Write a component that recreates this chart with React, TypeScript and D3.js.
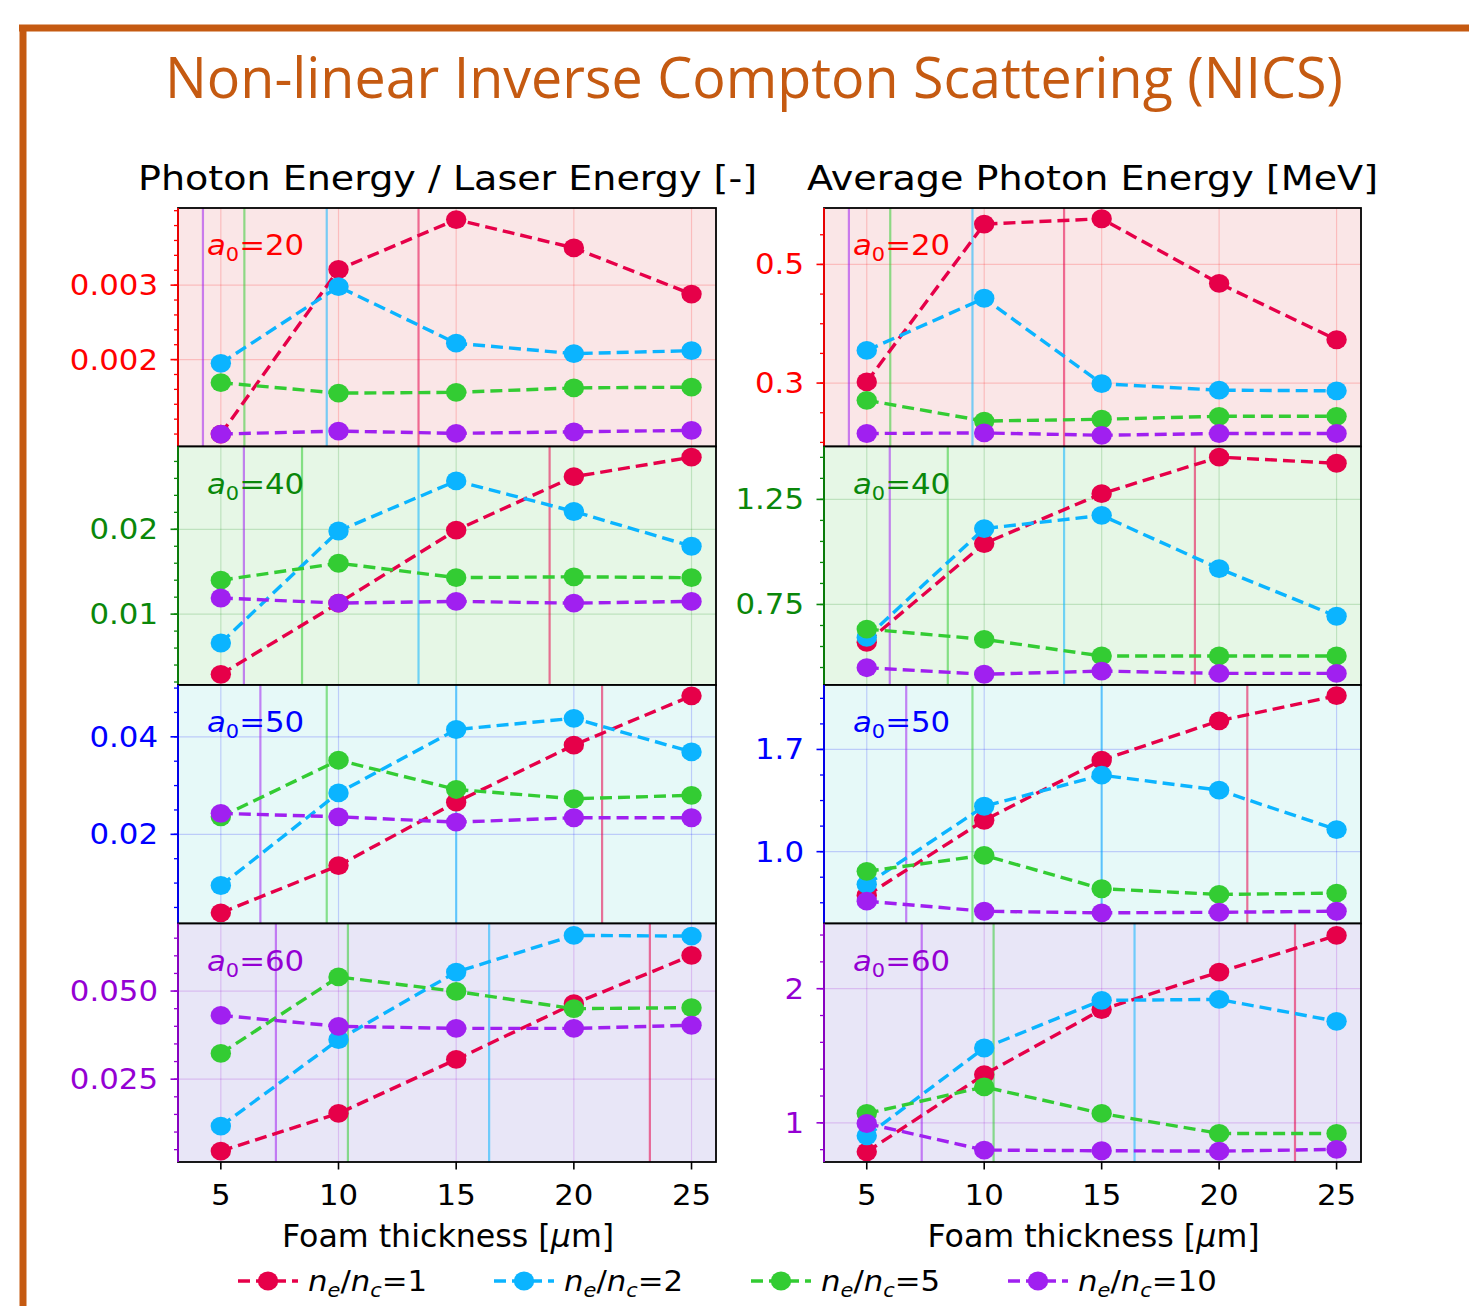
import React from "react";
import * as d3 from "d3";

// Foam thickness [um] sampled in the simulations
const thickness = [5, 10, 15, 20, 25];
const a0Values = [20, 40, 50, 60];
const densityLabels = ["1", "2", "5", "10"];
const seriesColors = ["#e60049", "#0bb4ff", "#33cc33", "#a020f0"];

// Photon energy / laser energy, rows: n_e/n_c = 1, 2, 5, 10
const ratioA20 = [
  [0.0010, 0.00321, 0.00388, 0.0035, 0.00288],
  [0.00195, 0.00298, 0.00222, 0.00208, 0.00212],
  [0.00169, 0.00155, 0.00156, 0.00162, 0.00163],
  [0.0010, 0.00104, 0.00101, 0.00103, 0.00105],
];
const ratioA40 = [
  [0.0029, 0.0113, 0.0199, 0.0262, 0.0285],
  [0.0066, 0.0198, 0.0257, 0.0221, 0.018],
  [0.014, 0.016, 0.0143, 0.0144, 0.0143],
  [0.0119, 0.0113, 0.0115, 0.0113, 0.0115],
];
const ratioA50 = [
  [0.0039, 0.0136, 0.0266, 0.0383, 0.0484],
  [0.0095, 0.0285, 0.0415, 0.0438, 0.0369],
  [0.0236, 0.0352, 0.0292, 0.0273, 0.028],
  [0.0243, 0.0236, 0.0225, 0.0234, 0.0234],
];
const ratioA60 = [
  [0.0046, 0.0153, 0.0306, 0.0464, 0.0601],
  [0.0117, 0.0362, 0.0554, 0.0658, 0.0656],
  [0.0323, 0.054, 0.0499, 0.045, 0.0453],
  [0.0431, 0.04, 0.0394, 0.0394, 0.0403],
];

// Average photon energy [MeV], rows: n_e/n_c = 1, 2, 5, 10
const avgA20 = [
  [0.302, 0.568, 0.577, 0.468, 0.373],
  [0.355, 0.443, 0.299, 0.288, 0.287],
  [0.271, 0.236, 0.239, 0.244, 0.244],
  [0.215, 0.216, 0.212, 0.215, 0.215],
];
const avgA40 = [
  [0.57, 1.04, 1.277, 1.451, 1.422],
  [0.593, 1.111, 1.174, 0.921, 0.694],
  [0.633, 0.584, 0.505, 0.505, 0.505],
  [0.449, 0.418, 0.433, 0.422, 0.422],
];
const avgA50 = [
  [0.7, 1.215, 1.627, 1.896, 2.068],
  [0.776, 1.311, 1.524, 1.421, 1.151],
  [0.865, 0.975, 0.746, 0.707, 0.716],
  [0.661, 0.592, 0.581, 0.585, 0.592],
];
const avgA60 = [
  [0.784, 1.36, 1.844, 2.124, 2.397],
  [0.903, 1.558, 1.913, 1.92, 1.757],
  [1.07, 1.268, 1.07, 0.921, 0.921],
  [0.995, 0.797, 0.792, 0.789, 0.802],
];

// Characteristic length [um] per density (1, 2, 5, 10), one row per a0
const lengthA20 = [13.4, 9.5, 6.0, 4.24];
const lengthA40 = [18.97, 13.4, 8.45, 5.98];
const lengthA50 = [21.2, 15.0, 9.5, 6.68];
const lengthA60 = [23.23, 16.4, 10.4, 7.34];

// Y tick values and labels
const ratioTicks = [[0.002, 0.003], [0.01, 0.02], [0.02, 0.04], [0.025, 0.05]];
const ratioTickLabels = [["0.002", "0.003"], ["0.01", "0.02"], ["0.02", "0.04"], ["0.025", "0.050"]];
const avgTicks = [[0.3, 0.5], [0.75, 1.25], [1.0, 1.7], [1, 2]];
const avgTickLabels = [["0.3", "0.5"], ["0.75", "1.25"], ["1.0", "1.7"], ["1", "2"]];
const xTickLabels = ["5", "10", "15", "20", "25"];

const ratioData = [ratioA20, ratioA40, ratioA50, ratioA60];
const avgData = [avgA20, avgA40, avgA50, avgA60];
const lengths = [lengthA20, lengthA40, lengthA50, lengthA60];

// Panel styling
const rowColors = ["#ff0000", "#0a870a", "#0000ff", "#9400d3"];
const rowBg = ["#fae6e7", "#e6f7e6", "#e6f9f8", "#e8e6f7"];
const ratioDomains: [number, number][] = [
  [0.000833, 0.004036],
  [0.001647, 0.02976],
  [0.00171, 0.05063],
  [0.0015, 0.06917],
];
const ratioMinor = [0.0002, 0.002, 0.005, 0.005];
const avgDomains: [number, number][] = [
  [0.1931, 0.5951],
  [0.3668, 1.5017],
  [0.508, 2.1414],
  [0.708, 2.486],
];
const avgMinor = [0.05, 0.1, 0.175, 0.2];

const W = 1469;
const H = 1306;
const rowEdges = [208, 446.5, 685, 923.5, 1162];
const leftCols: [number, number] = [178, 716];
const rightCols: [number, number] = [824, 1361];
const xDomain: [number, number] = [3.18, 26.04];
const FONT = "'DejaVu Sans', sans-serif";
const SX = 1.1;
const DASH = "12 6";

function T({ x, y, size, fill = "#000", anchor = "start", sx = SX, children, style }: any) {
  return (
    <text
      transform={`translate(${x},${y}) scale(${sx},1)`}
      fontSize={size}
      fill={fill}
      textAnchor={anchor}
      fontFamily={FONT}
      style={style}
    >
      {children}
    </text>
  );
}

function minorValues(domain: [number, number], anchor: number, step: number) {
  const out: number[] = [];
  const k0 = Math.ceil((domain[0] - anchor) / step - 1e-9);
  const k1 = Math.floor((domain[1] - anchor) / step + 1e-9);
  for (let k = k0; k <= k1; k++) out.push(anchor + k * step);
  return out;
}

function Panel({ cols, row, data, domain, ticks, tickLabels, minorStep, bottom }: any) {
  const y0 = rowEdges[row];
  const y1 = rowEdges[row + 1];
  const color = rowColors[row];
  const x = d3.scaleLinear().domain(xDomain).range(cols);
  const y = d3.scaleLinear().domain(domain).range([y1, y0]);
  const line = d3
    .line<number>()
    .x((_, i) => x(thickness[i]))
    .y((v) => y(v));
  const minors = minorValues(domain, ticks[0], minorStep);
  const clipId = `clip-${cols[0]}-${row}`;
  return (
    <g>
      <defs>
        <clipPath id={clipId}>
          <rect x={cols[0]} y={y0} width={cols[1] - cols[0]} height={y1 - y0} />
        </clipPath>
      </defs>
      <rect x={cols[0]} y={y0} width={cols[1] - cols[0]} height={y1 - y0} fill={rowBg[row]} />
      <g clipPath={`url(#${clipId})`}>
        {thickness.map((t) => (
          <line key={`gx${t}`} x1={x(t)} x2={x(t)} y1={y0} y2={y1} stroke={color} strokeOpacity={0.18} strokeWidth={1.2} />
        ))}
        {ticks.map((t: number) => (
          <line key={`gy${t}`} x1={cols[0]} x2={cols[1]} y1={y(t)} y2={y(t)} stroke={color} strokeOpacity={0.18} strokeWidth={1.2} />
        ))}
        {lengths[row].map((L: number, i: number) => (
          <line key={`v${i}`} x1={x(L)} x2={x(L)} y1={y0} y2={y1} stroke={seriesColors[i]} strokeOpacity={0.55} strokeWidth={2.2} />
        ))}
        {data.map((s: number[], i: number) => (
          <g key={`s${i}`}>
            <path d={line(s) || ""} fill="none" stroke={seriesColors[i]} strokeWidth={3.4} strokeDasharray={DASH} />
            {s.map((v, j) => (
              <ellipse key={j} cx={x(thickness[j])} cy={y(v)} rx={10.2} ry={9.4} fill={seriesColors[i]} />
            ))}
          </g>
        ))}
      </g>
      <rect x={cols[0]} y={y0} width={cols[1] - cols[0]} height={y1 - y0} fill="none" stroke="#000" strokeWidth={1.8} />
      <line x1={cols[0]} x2={cols[0]} y1={y0} y2={y1} stroke={color} strokeWidth={1.8} />
      {minors.map((m) => (
        <line key={`mt${m}`} x1={cols[0] - 4} x2={cols[0]} y1={y(m)} y2={y(m)} stroke={color} strokeWidth={1.3} />
      ))}
      {ticks.map((t: number, i: number) => (
        <g key={`t${t}`}>
          <line x1={cols[0] - 7.5} x2={cols[0]} y1={y(t)} y2={y(t)} stroke={color} strokeWidth={1.6} />
          <T x={cols[0] - 20} y={y(t) + 10} size={28} fill={color} anchor="end">
            {tickLabels[i]}
          </T>
        </g>
      ))}
      <T x={cols[0] + 29} y={y0 + 47} size={28} fill={color}>
        <tspan fontStyle="italic">a</tspan>
        <tspan fontSize={19} dy={6}>0</tspan>
        <tspan dy={-6}>={a0Values[row]}</tspan>
      </T>
      {bottom && (
        <g>
          {thickness.map((t, i) => (
            <g key={`xt${t}`}>
              <line x1={x(t)} x2={x(t)} y1={y1} y2={y1 + 7.5} stroke="#000" strokeWidth={1.6} />
              <T x={x(t)} y={y1 + 43} size={28} anchor="middle">
                {xTickLabels[i]}
              </T>
            </g>
          ))}
          <T x={(cols[0] + cols[1]) / 2 + 1} y={1247} size={32} anchor="middle" sx={0.99}>
            Foam thickness [<tspan fontStyle="italic">μ</tspan>m]
          </T>
        </g>
      )}
    </g>
  );
}

const legendX = [268, 524, 781, 1038];

export default function App() {
  return (
    <svg width={W} height={H} style={{ position: "absolute", left: 0, top: 0, background: "#fff" }}>
      <rect x={0} y={0} width={W} height={H} fill="#fff" />
      {/* slide frame */}
      <line x1={19} x2={W} y1={28} y2={28} stroke="#c55a11" strokeWidth={7} />
      <line x1={23} x2={23} y1={25} y2={H} stroke="#c55a11" strokeWidth={7} />
      <text
        x={165}
        y={98}
        fontSize={57}
        fill="#c55a11"
        fontFamily="'Open Sans', 'Noto Sans', sans-serif"
        textLength={1178}
        lengthAdjust="spacingAndGlyphs"
      >
        Non-linear Inverse Compton Scattering (NICS)
      </text>
      <text x={138} y={190} fontSize={34} fontFamily={FONT} textLength={619} lengthAdjust="spacingAndGlyphs">
        Photon Energy / Laser Energy [-]
      </text>
      <text x={807} y={190} fontSize={34} fontFamily={FONT} textLength={571} lengthAdjust="spacingAndGlyphs">
        Average Photon Energy [MeV]
      </text>
      {a0Values.map((_, r) => (
        <g key={`row${r}`}>
          <Panel
            cols={leftCols}
            row={r}
            data={ratioData[r]}
            domain={ratioDomains[r]}
            ticks={ratioTicks[r]}
            tickLabels={ratioTickLabels[r]}
            minorStep={ratioMinor[r]}
            bottom={r === 3}
          />
          <Panel
            cols={rightCols}
            row={r}
            data={avgData[r]}
            domain={avgDomains[r]}
            ticks={avgTicks[r]}
            tickLabels={avgTickLabels[r]}
            minorStep={avgMinor[r]}
            bottom={r === 3}
          />
        </g>
      ))}
      {densityLabels.map((d, i) => (
        <g key={`lg${d}`}>
          <line x1={legendX[i] - 30} x2={legendX[i] + 30} y1={1281} y2={1281} stroke={seriesColors[i]} strokeWidth={3.4} strokeDasharray={DASH} />
          <ellipse cx={legendX[i]} cy={1281} rx={10.2} ry={9.4} fill={seriesColors[i]} />
          <T x={legendX[i] + 40} y={1291} size={28}>
            <tspan fontStyle="italic">n</tspan>
            <tspan fontSize={19} dy={6} fontStyle="italic">e</tspan>
            <tspan dy={-6}>/</tspan>
            <tspan fontStyle="italic">n</tspan>
            <tspan fontSize={19} dy={6} fontStyle="italic">c</tspan>
            <tspan dy={-6}>={d}</tspan>
          </T>
        </g>
      ))}
    </svg>
  );
}
